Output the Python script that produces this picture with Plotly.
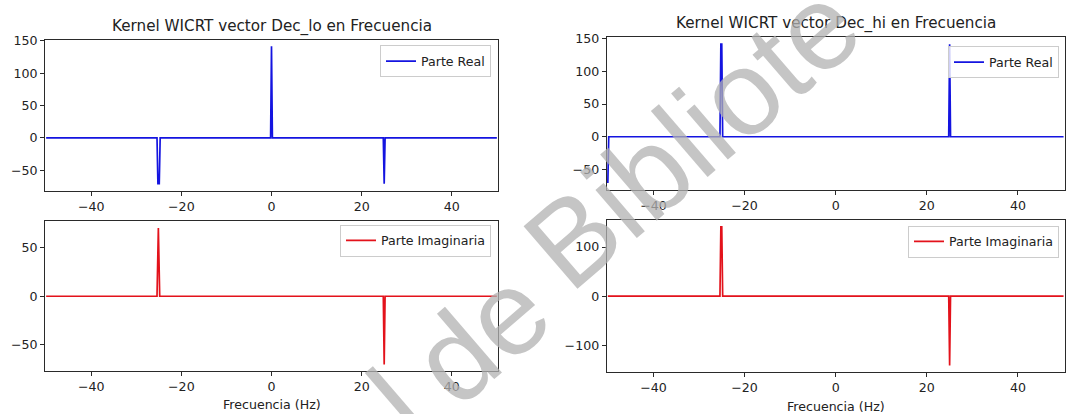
import plotly.graph_objects as go

# ---------------- data ----------------
lo_real_x = [-50.0, -25.4, -25.2, -24.9, -24.7, -0.2, 0.0, 0.2, 24.8, 25.0, 25.2, 50.0]
lo_real_y = [0, 0, -70.7, -70.7, 0, 0, 141.4, 0, 0, -70.7, 0, 0]

lo_imag_x = [-50.0, -25.4, -25.1, -24.8, 24.8, 25.0, 25.2, 50.0]
lo_imag_y = [0, 0, 70.7, 0, 0, -70.7, 0, 0]

hi_real_x = [-50.0, -49.8, -25.4, -25.2, -25.0, -24.8, 24.8, 25.0, 25.2, 50.0]
hi_real_y = [-70.7, 0, 0, 141.4, 141.4, 0, 0, 141.4, 0, 0]

hi_imag_x = [-50.0, -25.4, -25.2, -25.0, -24.8, 24.8, 25.0, 25.2, 50.0]
hi_imag_y = [0, 0, 141.4, 141.4, 0, 0, -141.4, 0, 0]

x_ticks = [-40, -20, 0, 20, 40]
y_ticks_top = [-50, 0, 50, 100, 150]
y_ticks_lo_imag = [-50, 0, 50]
y_ticks_hi_imag = [-100, 0, 100]

titles = ["Kernel WICRT vector Dec_lo en Frecuencia", "Kernel WICRT vector Dec_hi en Frecuencia"]
xlabel = "Frecuencia (Hz)"
legend_real = "Parte Real"
legend_imag = "Parte Imaginaria"
watermark_words = ["l", "de", "Bibliote"]

# ---------------- styling ----------------
W, H = 1068, 414
BLUE = "#1414e0"
RED = "#e3121b"
AX = "#2a2a2a"
FONT = "DejaVu Sans"
TICK_FS = 12.6
TITLE_FS = 15.2


def px(v):
    return v / W


def py(v):
    return 1 - v / H


fig = go.Figure()

traces = [
    (lo_real_x, lo_real_y, BLUE, legend_real, "x", "y", "legend"),
    (lo_imag_x, lo_imag_y, RED, legend_imag, "x2", "y2", "legend2"),
    (hi_real_x, hi_real_y, BLUE, legend_real, "x3", "y3", "legend3"),
    (hi_imag_x, hi_imag_y, RED, legend_imag, "x4", "y4", "legend4"),
]
for xs, ys, col, name, xa, ya, lg in traces:
    fig.add_trace(go.Scatter(x=xs, y=ys, mode="lines", name=name,
                             line=dict(color=col, width=1.7),
                             xaxis=xa, yaxis=ya, legend=lg, showlegend=True))


def axis_common():
    return dict(showline=True, mirror=True, linecolor=AX, linewidth=1,
                ticks="outside", ticklen=4, tickwidth=1, tickcolor=AX,
                showgrid=False, zeroline=False,
                tickfont=dict(family=FONT, size=TICK_FS, color="#222"))


xr = [-50.25, 50.25]
dom_left = [px(45), px(498)]
dom_right = [px(606.7), px(1064.7)]

layout = dict(
    width=W, height=H,
    margin=dict(l=0, r=0, t=0, b=0),
    paper_bgcolor="white", plot_bgcolor="white",
    font=dict(family=FONT, color="#222"),
    xaxis=dict(domain=dom_left, range=xr, tickvals=x_ticks, anchor="y", **axis_common()),
    yaxis=dict(domain=[py(187.3), py(34)], range=[-81.3, 152], tickvals=y_ticks_top,
               anchor="x", **axis_common()),
    xaxis2=dict(domain=dom_left, range=xr, tickvals=x_ticks, anchor="y2", **axis_common()),
    yaxis2=dict(domain=[py(370.7), py(218.3)], range=[-77.8, 77.8], tickvals=y_ticks_lo_imag,
                anchor="x2", **axis_common()),
    xaxis3=dict(domain=dom_right, range=xr, tickvals=x_ticks, anchor="y3", **axis_common()),
    yaxis3=dict(domain=[py(186.7), py(31.7)], range=[-81.3, 152], tickvals=y_ticks_top,
                anchor="x3", **axis_common()),
    xaxis4=dict(domain=dom_right, range=xr, tickvals=x_ticks, anchor="y4", **axis_common()),
    yaxis4=dict(domain=[py(371.7), py(217)], range=[-155.5, 155.5], tickvals=y_ticks_hi_imag,
                anchor="x4", **axis_common()),
)


def legend_at(xr_px, yt_px):
    return dict(x=px(xr_px), y=py(yt_px), xanchor="right", yanchor="top",
                bgcolor="rgba(255,255,255,0.8)", bordercolor="#cccccc", borderwidth=1,
                font=dict(family=FONT, size=TICK_FS, color="#222"),
                itemwidth=30, tracegroupgap=0)


layout["legend"] = legend_at(491, 40)
layout["legend2"] = legend_at(491, 222)
layout["legend3"] = legend_at(1059, 41)
layout["legend4"] = legend_at(1059, 223)

fig.update_layout(**layout)

ann = []
ann.append(dict(text=titles[0], x=px(271.5), y=py(20.4), xref="paper", yref="paper",
                xanchor="center", yanchor="middle", showarrow=False,
                font=dict(family=FONT, size=TITLE_FS, color="#222")))
ann.append(dict(text=titles[1], x=px(835.7), y=py(17.3), xref="paper", yref="paper",
                xanchor="center", yanchor="middle", showarrow=False,
                font=dict(family=FONT, size=TITLE_FS, color="#222")))
ann.append(dict(text=xlabel, x=px(271.5), y=py(404), xref="paper", yref="paper",
                xanchor="center", yanchor="middle", showarrow=False,
                font=dict(family=FONT, size=TICK_FS, color="#222")))
ann.append(dict(text=xlabel, x=px(835.7), y=py(406.7), xref="paper", yref="paper",
                xanchor="center", yanchor="middle", showarrow=False,
                font=dict(family=FONT, size=TICK_FS, color="#222")))

# watermark words (light grey, rotated), centres
wm_centres = [(398, 404), (480, 335), (692, 131)]
for word, (cx, cy) in zip(watermark_words, wm_centres):
    ann.append(dict(text=word, x=px(cx), y=py(cy), xref="paper", yref="paper",
                    xanchor="center", yanchor="middle", showarrow=False, textangle=-40.7,
                    opacity=0.75,
                    font=dict(family="Liberation Sans", size=120, color="#b2b2b2")))
fig.update_layout(annotations=ann)

fig.write_html("out.html")
